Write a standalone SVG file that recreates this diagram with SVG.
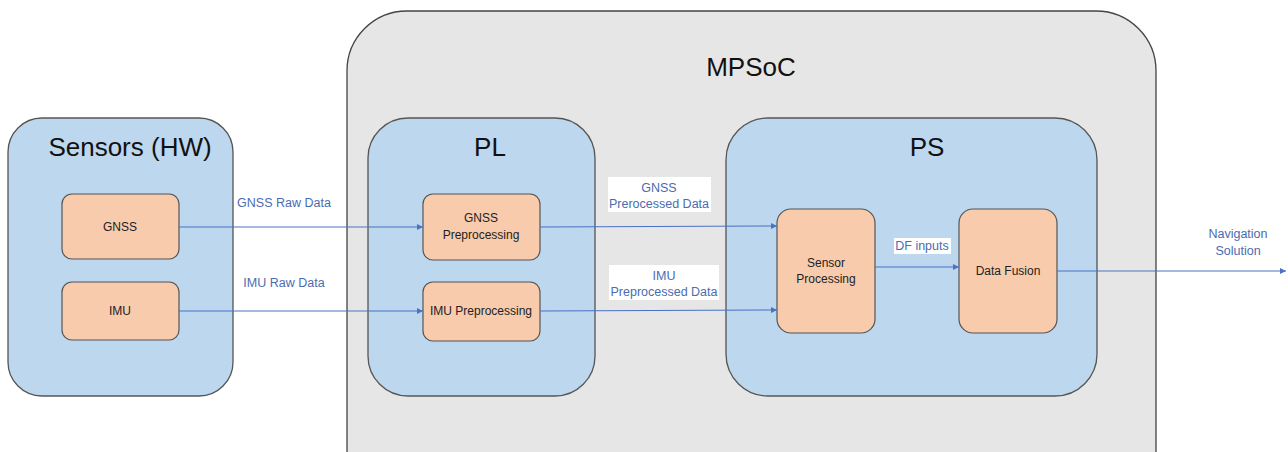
<svg xmlns="http://www.w3.org/2000/svg" width="1288" height="452" viewBox="0 0 1288 452">
  <style>
    .soc { fill: #e6e6e6; stroke: #444; stroke-width: 1.3; }
    .domain { fill: #bdd7ee; stroke: #555; stroke-width: 1.3; }
    .block { fill: #f8cbad; stroke: #555; stroke-width: 1.2; }
    .title { font-family: "Liberation Sans", Arial, sans-serif; font-size: 26px; fill: #111; text-anchor: middle; }
    .blk { font-family: "Liberation Sans", Arial, sans-serif; font-size: 12px; fill: #222; text-anchor: middle; }
    .lbl { font-family: "Liberation Sans", Arial, sans-serif; font-size: 12.5px; fill: #4a6cb0; text-anchor: middle; }
    .wire { stroke: #4a72c4; stroke-width: 1.1; fill: none; marker-end: url(#arr); }
    .tag { fill: #fff; }
  </style>
  <defs>
    <marker id="arr" viewBox="0 0 10 10" refX="10" refY="5" markerWidth="6" markerHeight="6" markerUnits="userSpaceOnUse" orient="auto">
      <path d="M0,0 L10,5 L0,10 z" fill="#4a72c4"/>
    </marker>
  </defs>
  <rect width="1288" height="452" fill="#fff"/>

  <!-- MPSoC container -->
  <g id="mpsoc">
    <rect class="soc" x="347" y="11" width="809" height="500" rx="60" ry="60"/>
    <text class="title" x="751" y="76">MPSoC</text>
  </g>

  <!-- Sensors hardware -->
  <g id="sensors">
    <rect class="domain" x="8" y="118" width="225" height="278" rx="34" ry="34"/>
    <text class="title" x="130" y="156">Sensors (HW)</text>
  </g>
  <g id="gnss">
    <rect class="block" x="62" y="194" width="117" height="65" rx="10" ry="10"/>
    <text class="blk" x="120" y="231">GNSS</text>
  </g>
  <g id="imu">
    <rect class="block" x="62" y="282" width="117" height="58" rx="10" ry="10"/>
    <text class="blk" x="120" y="315">IMU</text>
  </g>

  <!-- Programmable logic -->
  <g id="pl">
    <rect class="domain" x="368" y="118" width="227" height="278" rx="40" ry="40"/>
    <text class="title" x="490" y="156">PL</text>
  </g>
  <g id="gnss-pre">
    <rect class="block" x="423" y="194" width="117" height="66" rx="10" ry="10"/>
    <text class="blk" x="481" y="222">GNSS</text>
    <text class="blk" x="481" y="239">Preprocessing</text>
  </g>
  <g id="imu-pre">
    <rect class="block" x="423" y="282" width="117" height="59" rx="10" ry="10"/>
    <text class="blk" x="481" y="315">IMU Preprocessing</text>
  </g>

  <!-- Processing system -->
  <g id="ps">
    <rect class="domain" x="726" y="118" width="371" height="278" rx="42" ry="42"/>
    <text class="title" x="927" y="156">PS</text>
  </g>
  <g id="sensor-proc">
    <rect class="block" x="777" y="209" width="98" height="124" rx="14" ry="14"/>
    <text class="blk" x="826" y="267">Sensor</text>
    <text class="blk" x="826" y="283">Processing</text>
  </g>
  <g id="data-fusion">
    <rect class="block" x="959" y="209" width="98" height="124" rx="14" ry="14"/>
    <text class="blk" x="1008" y="275">Data Fusion</text>
  </g>

  <!-- Data flow -->
  <g id="connectors">
    <line class="wire" x1="179" y1="227" x2="423" y2="227"/>
    <line class="wire" x1="179" y1="311" x2="423" y2="311"/>
    <line class="wire" x1="540" y1="227" x2="777" y2="226"/>
    <line class="wire" x1="540" y1="311" x2="777" y2="310"/>
    <line class="wire" x1="875" y1="267" x2="959" y2="267"/>
    <line class="wire" x1="1057" y1="271" x2="1286" y2="271"/>
  </g>

  <!-- Flow labels -->
  <g id="labels">
    <text class="lbl" x="284" y="207">GNSS Raw Data</text>
    <text class="lbl" x="284" y="287">IMU Raw Data</text>
    <rect class="tag" x="608" y="177" width="103" height="35"/>
    <text class="lbl" x="659" y="192">GNSS</text>
    <text class="lbl" x="659" y="208">Prerocessed Data</text>
    <rect class="tag" x="609" y="265" width="110" height="35"/>
    <text class="lbl" x="664" y="280">IMU</text>
    <text class="lbl" x="664" y="296">Preprocessed Data</text>
    <rect class="tag" x="894" y="238" width="57" height="16"/>
    <text class="lbl" x="922" y="250">DF inputs</text>
    <text class="lbl" x="1238" y="238">Navigation</text>
    <text class="lbl" x="1238" y="255">Solution</text>
  </g>
</svg>
